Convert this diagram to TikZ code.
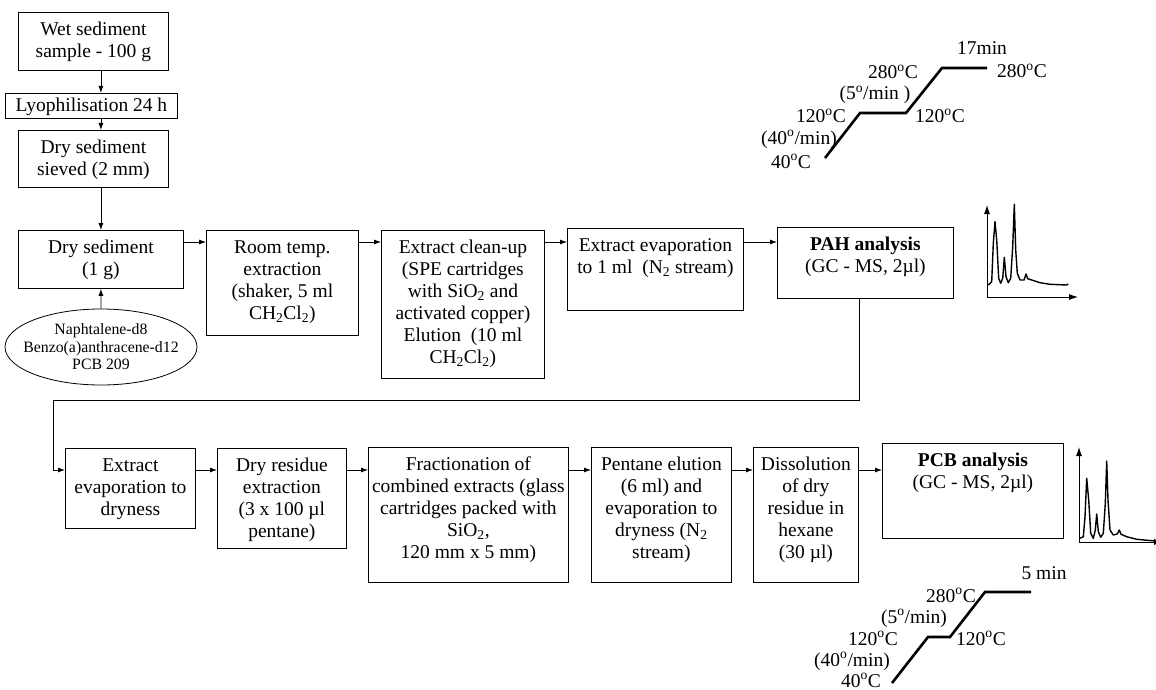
\documentclass[tikz,border=0pt]{standalone}
\usepackage{fontspec}
\setmainfont{Liberation Serif}
\usetikzlibrary{shapes.geometric,arrows.meta}
\newcommand{\pb}[4][23pt]{\parbox[c][#3][t]{#2}{\centering\rule{0pt}{#1}#4}}
\newcommand{\dg}{\textsuperscript{o}}
\tikzset{
  stepbox/.style={draw, line width=0.8pt, inner sep=0pt, anchor=north west},
  flow/.style={-{Latex[length=7pt,width=5pt]}, line width=0.8pt},
  axisarrow/.style={-{Latex[length=9pt,width=6pt]}, line width=0.9pt},
  templine/.style={line width=2.6pt},
  tlabel/.style={anchor=base, inner sep=0pt},
  signal/.style={line width=1.4pt, line join=round},
}
\begin{document}
\begin{tikzpicture}[x=1pt, y=-1pt, font=\fontsize{19.5}{22}\selectfont]
\useasboundingbox (0,0) rectangle (1156,690);

\node[stepbox] (wet) at (18,12) {\pb{150pt}{58pt}{Wet sediment\\ sample - 100 g}};
\node[stepbox] (lyo) at (5,93) {\pb[18pt]{172pt}{25pt}{Lyophilisation 24 h}};
\node[stepbox] (sieved) at (18,130) {\pb{150pt}{57pt}{Dry sediment\\ sieved (2 mm)}};
\node[stepbox] (dry) at (18,230) {\pb{165pt}{58pt}{Dry sediment\\ (1 g)}};
\node[draw, ellipse, line width=0.8pt, inner xsep=-18pt, inner ysep=0pt,
  minimum width=192pt, minimum height=76pt, align=center,
  font=\fontsize{15.8}{17.5}\selectfont] (spike) at (101,347)
  {Naphtalene-d8\\ Benzo(a)anthracene-d12\\ PCB 209};

\node[stepbox] (room) at (206,230) {\pb{152pt}{105pt}{Room temp.\\ extraction\\ (shaker, 5 ml\\ CH\textsubscript{2}Cl\textsubscript{2})}};
\node[stepbox] (cleanup) at (381,230) {\pb{163pt}{148pt}{Extract clean-up\\ (SPE cartridges\\ with SiO\textsubscript{2} and\\ activated copper)\\ Elution~ (10 ml\\ CH\textsubscript{2}Cl\textsubscript{2})}};
\node[stepbox] (evap) at (567,228) {\pb{176pt}{82pt}{Extract evaporation\\ to 1 ml~ (N\textsubscript{2} stream)}};
\node[stepbox] (pah) at (777,227) {\pb{176pt}{71pt}{\textbf{PAH analysis}\\ (GC - MS, 2µl)}};

\node[stepbox] (evapdry) at (65,448) {\pb{130pt}{80pt}{Extract\\ evaporation to\\ dryness}};
\node[stepbox] (dryres) at (217,448) {\pb{129pt}{100pt}{Dry residue\\ extraction\\ (3 x 100 µl\\ pentane)}};
\node[stepbox] (frac) at (368,447) {\pb{200pt}{135pt}{Fractionation of\\ combined extracts (glass\\ cartridges packed with\\ SiO\textsubscript{2},\\ 120 mm x 5 mm)}};
\node[stepbox] (pentane) at (591,447) {\pb{140pt}{135pt}{Pentane elution\\ (6 ml) and\\ evaporation to\\ dryness (N\textsubscript{2}\\ stream)}};
\node[stepbox] (dissol) at (753,447) {\pb{105pt}{135pt}{Dissolution\\ of dry\\ residue in\\ hexane\\ (30 µl)}};
\node[stepbox] (pcb) at (882,443) {\pb{181pt}{95pt}{\textbf{PCB analysis}\\ (GC - MS, 2µl)}};

\coordinate (row1) at (0,242);
\coordinate (row2) at (0,470);
\coordinate (bend) at (53,400);

\draw[flow] (wet.south -| dry.north) -- (lyo.north -| dry.north);
\draw[flow] (lyo.south -| dry.north) -- (sieved.north -| dry.north);
\draw[flow] (sieved.south -| dry.north) -- (dry.north);
\draw[flow] (spike.north) -- (dry.south);
\draw[flow] (dry.east |- row1) -- (room.west |- row1);
\draw[flow] (room.east |- row1) -- (cleanup.west |- row1);
\draw[flow] (cleanup.east |- row1) -- (evap.west |- row1);
\draw[flow] (evap.east |- row1) -- (pah.west |- row1);
\draw[flow] ([xshift=-6pt]pah.south) |- (bend) |- (evapdry.west |- row2);
\draw[flow] (evapdry.east |- row2) -- (dryres.west |- row2);
\draw[flow] (dryres.east |- row2) -- (frac.west |- row2);
\draw[flow] (frac.east |- row2) -- (pentane.west |- row2);
\draw[flow] (pentane.east |- row2) -- (dissol.west |- row2);
\draw[flow] (dissol.east |- row2) -- (pcb.west |- row2);

\draw[axisarrow] (987,297) -- (987,205);
\draw[axisarrow] (987,297) -- (1078,297);
\draw[signal] plot coordinates {(988.3,285) (991.7,281.7) (993.3,243.3) (995,221.7)
  (996.7,240) (998.7,278.3) (1000.7,283.3) (1002.7,278.3) (1004.3,257.3) (1006,276.7)
  (1008.3,282.7) (1010.7,278.3) (1012.7,246.7) (1014.3,204.3) (1015.7,250) (1017.3,273.3)
  (1020,280) (1024,280) (1026,274) (1027.7,278.7) (1031.7,280) (1040,282.7) (1050,284.3)
  (1066.7,285) (1068.3,284)};

\draw[axisarrow] (1079,542) -- (1079,447);
\draw[axisarrow] (1079,542) -- (1163,542);
\draw[signal] plot coordinates {(1080,538.3) (1083.3,536.7) (1085,516.7) (1086.7,478.3)
  (1088.7,500) (1090.7,533.3) (1093.3,538.3) (1095.3,530) (1096.7,514) (1098.3,531.7)
  (1100.7,537.3) (1103.3,533.3) (1105.3,503.3) (1106.7,461) (1108,500) (1110,530)
  (1113.3,535) (1117.3,534) (1119.3,530) (1121,534.3) (1126.7,536.7) (1136.7,539.3)
  (1155,541)};

\draw[templine] (825,158) -- (860,113) -- (906,113) -- (942,68) -- (987,68);
\node[tlabel] (t17) at (982,55) {17min};
\node[tlabel] (thi) at (1022,78) {280\dg C};
\node[tlabel] (tmid) at (893,79) {280\dg C};
\node[tlabel] (trate) at (875,100) {(5\dg/min )};
\node[tlabel] (tlo) at (821,123) {120\dg C};
\node[tlabel] (thold) at (940,123) {120\dg C};
\node[tlabel] (tfast) at (799,144) {(40\dg/min)};
\node[tlabel] (tstart) at (791,168) {40\dg C};

\draw[templine] (892,683) -- (928,637) -- (950,637) -- (985,592) -- (1031,592);
\node[tlabel] (b5) at (1044,579) {5 min};
\node[tlabel] (bhi) at (951,602) {280\dg C};
\node[tlabel] (brate) at (914,623) {(5\dg/min)};
\node[tlabel] (blo) at (873,645) {120\dg C};
\node[tlabel] (bhold) at (981,645) {120\dg C};
\node[tlabel] (bfast) at (852,666) {(40\dg/min)};
\node[tlabel] (bstart) at (861,687) {40\dg C};
\end{tikzpicture}
\end{document}
